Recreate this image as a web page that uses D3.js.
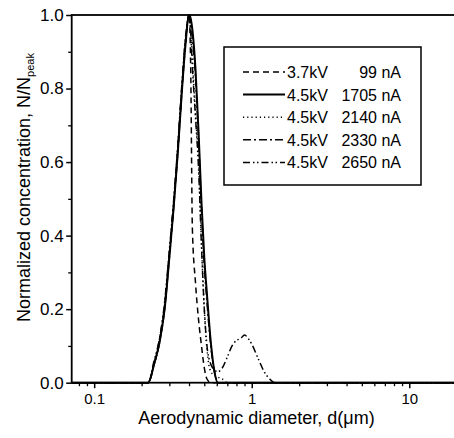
<!DOCTYPE html>
<html><head><meta charset="utf-8">
<script src="https://cdn.jsdelivr.net/npm/d3@7/dist/d3.min.js"></script>
<style>body{margin:0;background:#fff}svg{display:block}text{font-family:"Liberation Sans",Arial,sans-serif;fill:#000}</style>
</head><body><svg id="c" width="454" height="438"></svg>
<script>
// Data
const diameters = [0.072,0.20,0.22,0.24,0.26,0.28,0.30,0.32,0.34,0.36,0.38,0.40,0.41,0.42,0.44,0.46,0.48,0.50,0.52,0.55,0.58,0.61,0.65,0.70,0.75,0.80,0.85,0.90,0.95,1.00,1.10,1.20,1.30,1.40,1.60,2.0,5.0,20];
const s99   = [0,0,0,0.05,0.11,0.20,0.34,0.48,0.63,0.79,0.92,1.00,0.85,0.42,0.27,0.17,0.10,0.04,0.01,0,0,0,0,0,0,0,0,0,0,0,0,0,0,0,0,0,0,0];
const s1705 = [0,0,0,0.05,0.11,0.20,0.34,0.48,0.63,0.79,0.92,1.00,0.99,0.96,0.85,0.68,0.49,0.34,0.24,0.11,0.03,0,0,0,0,0,0,0,0,0,0,0,0,0,0,0,0,0];
const s2140 = [0,0,0,0.05,0.11,0.21,0.35,0.49,0.64,0.80,0.93,1.00,0.96,0.88,0.73,0.60,0.38,0.20,0.09,0.03,0.02,0.015,0.01,0,0,0,0,0,0,0,0,0,0,0,0,0,0,0];
const s2330 = [0,0,0,0.05,0.12,0.21,0.35,0.49,0.64,0.80,0.93,1.00,0.98,0.94,0.83,0.66,0.47,0.32,0.22,0.10,0.03,0,0,0,0,0,0,0,0,0,0,0,0,0,0,0,0,0];
const s2650 = [0,0,0,0.06,0.12,0.22,0.36,0.50,0.65,0.81,0.94,1.00,0.95,0.86,0.72,0.58,0.37,0.20,0.10,0.05,0.035,0.03,0.04,0.07,0.10,0.115,0.12,0.13,0.12,0.105,0.065,0.03,0.01,0,0,0,0,0];
const seriesNames = ["3.7kV","4.5kV","4.5kV","4.5kV","4.5kV"];
const seriesCurrents = ["99 nA","1705 nA","2140 nA","2330 nA","2650 nA"];
const xTicks = [0.1,1,10];
const yTicks = [0,0.2,0.4,0.6,0.8,1.0];

const series = [
  {v:s99, dash:"6,4", w:1.5},
  {v:s1705, dash:null, w:2},
  {v:s2140, dash:"1.2,3", w:1.5},
  {v:s2330, dash:"8,3,2,3", w:1.6},
  {v:s2650, dash:"7,3,1.5,2.5,1.5,3", w:1.5}
];

const svg = d3.select("#c");
const L=71.7, T=15, R=456.7, B=382.7;
const x = d3.scaleLog().domain([0.072,20]).range([L,R]);
const y = d3.scaleLinear().domain([0,1]).range([B,T]);

// frame
svg.append("rect").attr("x",L).attr("y",T).attr("width",R-L).attr("height",B-T)
  .attr("fill","none").attr("stroke","#000").attr("stroke-width",1.8);

// x axis
const minorX = [0.08,0.09];
[0.1,1,10].forEach(d=>{for(let k=2;k<10;k++){const v=d*k;if(v<=20)minorX.push(v);}});
const gx = svg.append("g").attr("transform",`translate(0,${B})`);
gx.call(d3.axisBottom(x).tickValues(minorX).tickSize(3.5).tickFormat(""))
  .call(g=>g.select(".domain").remove()).selectAll("line").attr("stroke-width",1.3);
const gx2 = svg.append("g").attr("transform",`translate(0,${B})`);
gx2.call(d3.axisBottom(x).tickValues(xTicks).tickSize(5.5).tickPadding(5).tickFormat(d=>String(d)))
  .call(g=>g.select(".domain").remove());
gx2.selectAll("line").attr("stroke-width",1.5);
gx2.selectAll("text").attr("font-size",15).attr("font-family","Liberation Sans, Arial, sans-serif");

// y axis
const minorY = [0.1,0.3,0.5,0.7,0.9];
const gy = svg.append("g").attr("transform",`translate(${L},0)`);
gy.call(d3.axisLeft(y).tickValues(minorY).tickSize(3.5).tickFormat(""))
  .call(g=>g.select(".domain").remove()).selectAll("line").attr("stroke-width",1.3);
const gy2 = svg.append("g").attr("transform",`translate(${L},0)`);
gy2.call(d3.axisLeft(y).tickValues(yTicks).tickSize(5.5).tickPadding(2.5).tickFormat(d3.format(".1f")))
  .call(g=>g.select(".domain").remove());
gy2.selectAll("line").attr("stroke-width",1.5);
gy2.selectAll("text").attr("font-size",17).attr("font-family","Liberation Sans, Arial, sans-serif");

// curves
svg.append("clipPath").attr("id","cp").append("rect").attr("x",L).attr("y",T-2).attr("width",R-L).attr("height",B-T+4);
const line = d3.line().x((d,i)=>x(diameters[i])).y(d=>y(d)).curve(d3.curveMonotoneX);
series.forEach(s=>{
  svg.append("path").attr("d",line(s.v)).attr("fill","none").attr("stroke","#000")
    .attr("stroke-width",s.w).attr("stroke-dasharray",s.dash).attr("clip-path","url(#cp)");
});

// legend
const lg = svg.append("g");
lg.append("rect").attr("x",224).attr("y",47).attr("width",197).attr("height",138)
  .attr("fill","#fff").attr("stroke","#000").attr("stroke-width",1.5);
series.forEach((s,i)=>{
  const yy = 72 + i*22.6;
  lg.append("line").attr("x1",243).attr("x2",285).attr("y1",yy).attr("y2",yy)
    .attr("stroke","#000").attr("stroke-width",s.w).attr("stroke-dasharray",s.dash);
  lg.append("text").attr("x",287).attr("y",yy+6).attr("font-size",16).text(seriesNames[i]);
  lg.append("text").attr("x",401).attr("y",yy+6).attr("font-size",16).attr("text-anchor","end").text(seriesCurrents[i]);
});

// axis titles
svg.append("text").attr("x",256.5).attr("y",424).attr("text-anchor","middle")
  .attr("font-size",18).text("Aerodynamic diameter, d(\u03bcm)");
const yt = svg.append("text").attr("transform","translate(30,187.5) rotate(-90)").attr("text-anchor","middle").attr("font-size",18);
yt.append("tspan").text("Normalized concentration, N/N");
yt.append("tspan").attr("font-size",11).attr("dy",4).text("peak");
</script></body></html>
